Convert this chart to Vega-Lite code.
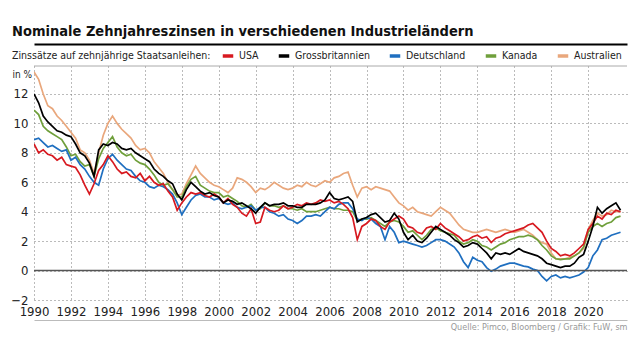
{
  "$schema": "https://vega.github.io/schema/vega-lite/v6.json",
  "width": 593,
  "height": 234,
  "autosize": {"type": "none"},
  "padding": {"left": 34, "top": 66, "right": 13, "bottom": 52},
  "background": "white",
  "config": {
    "font": "DejaVu Sans Condensed, Liberation Sans Narrow, Roboto, sans-serif",
    "view": {"stroke": null},
    "axisY": {
      "labelOverlap": false,
      "labelFlush": false,
      "labelBound": false
    }
  },
  "title": {
    "text": "Nominale Zehnjahreszinsen in verschiedenen Industrieländern",
    "anchor": "start",
    "frame": "group",
    "dx": -22,
    "dy": 14,
    "offset": 8,
    "baseline": "alphabetic",
    "fontSize": 14.5,
    "fontWeight": "bold",
    "color": "#111"
  },
  "data": {
    "values": [
      {"t":1990.00,"USA":8.6,"Grossbritannien":12.0,"Deutschland":8.9,"Kanada":10.9,"Australien":13.5},
      {"t":1990.25,"USA":8.0,"Grossbritannien":11.4,"Deutschland":9.0,"Kanada":10.6,"Australien":13.0},
      {"t":1990.50,"USA":8.2,"Grossbritannien":10.5,"Deutschland":8.7,"Kanada":9.8,"Australien":12.0},
      {"t":1990.75,"USA":7.9,"Grossbritannien":10.1,"Deutschland":8.4,"Kanada":9.5,"Australien":11.2},
      {"t":1991.00,"USA":7.8,"Grossbritannien":9.8,"Deutschland":8.5,"Kanada":9.3,"Australien":11.0},
      {"t":1991.25,"USA":7.5,"Grossbritannien":9.5,"Deutschland":8.3,"Kanada":9.1,"Australien":10.5},
      {"t":1991.50,"USA":7.7,"Grossbritannien":9.4,"Deutschland":8.1,"Kanada":8.9,"Australien":10.2},
      {"t":1991.75,"USA":7.2,"Grossbritannien":9.2,"Deutschland":8.2,"Kanada":8.4,"Australien":9.8},
      {"t":1992.00,"USA":7.1,"Grossbritannien":9.1,"Deutschland":7.5,"Kanada":7.8,"Australien":9.4},
      {"t":1992.25,"USA":7.0,"Grossbritannien":8.6,"Deutschland":7.7,"Kanada":7.9,"Australien":9.0},
      {"t":1992.50,"USA":6.5,"Grossbritannien":8.0,"Deutschland":7.2,"Kanada":7.4,"Australien":8.2},
      {"t":1992.75,"USA":5.8,"Grossbritannien":7.8,"Deutschland":6.9,"Kanada":7.1,"Australien":8.0},
      {"t":1993.00,"USA":5.2,"Grossbritannien":7.3,"Deutschland":6.4,"Kanada":7.2,"Australien":7.5},
      {"t":1993.25,"USA":5.9,"Grossbritannien":6.4,"Deutschland":6.0,"Kanada":6.4,"Australien":6.6},
      {"t":1993.50,"USA":6.8,"Grossbritannien":8.2,"Deutschland":5.8,"Kanada":7.6,"Australien":8.0},
      {"t":1993.75,"USA":7.2,"Grossbritannien":8.6,"Deutschland":6.9,"Kanada":8.3,"Australien":9.2},
      {"t":1994.00,"USA":7.8,"Grossbritannien":8.5,"Deutschland":7.6,"Kanada":8.7,"Australien":10.0},
      {"t":1994.25,"USA":7.4,"Grossbritannien":8.7,"Deutschland":7.9,"Kanada":9.1,"Australien":10.5},
      {"t":1994.50,"USA":6.9,"Grossbritannien":8.6,"Deutschland":7.5,"Kanada":8.4,"Australien":10.0},
      {"t":1994.75,"USA":6.6,"Grossbritannien":8.3,"Deutschland":7.2,"Kanada":8.0,"Australien":9.6},
      {"t":1995.00,"USA":6.7,"Grossbritannien":8.2,"Deutschland":6.9,"Kanada":7.8,"Australien":9.3},
      {"t":1995.25,"USA":6.4,"Grossbritannien":8.3,"Deutschland":6.8,"Kanada":7.9,"Australien":9.0},
      {"t":1995.50,"USA":6.3,"Grossbritannien":8.0,"Deutschland":6.4,"Kanada":7.5,"Australien":8.5},
      {"t":1995.75,"USA":6.6,"Grossbritannien":7.8,"Deutschland":6.1,"Kanada":7.3,"Australien":8.2},
      {"t":1996.00,"USA":6.1,"Grossbritannien":7.6,"Deutschland":6.0,"Kanada":7.2,"Australien":8.3},
      {"t":1996.25,"USA":6.4,"Grossbritannien":7.4,"Deutschland":5.7,"Kanada":6.9,"Australien":8.0},
      {"t":1996.50,"USA":6.0,"Grossbritannien":6.9,"Deutschland":5.6,"Kanada":6.5,"Australien":7.4},
      {"t":1996.75,"USA":5.8,"Grossbritannien":6.6,"Deutschland":5.8,"Kanada":6.0,"Australien":7.0},
      {"t":1997.00,"USA":5.9,"Grossbritannien":6.4,"Deutschland":5.7,"Kanada":5.8,"Australien":6.6},
      {"t":1997.25,"USA":5.4,"Grossbritannien":6.1,"Deutschland":5.5,"Kanada":5.9,"Australien":6.0},
      {"t":1997.50,"USA":5.0,"Grossbritannien":5.9,"Deutschland":5.2,"Kanada":5.5,"Australien":5.5},
      {"t":1997.75,"USA":4.1,"Grossbritannien":5.2,"Deutschland":4.6,"Kanada":5.0,"Australien":5.1},
      {"t":1998.00,"USA":4.6,"Grossbritannien":4.8,"Deutschland":3.8,"Kanada":5.0,"Australien":5.2},
      {"t":1998.25,"USA":5.0,"Grossbritannien":5.5,"Deutschland":4.3,"Kanada":5.7,"Australien":5.9},
      {"t":1998.50,"USA":5.3,"Grossbritannien":6.0,"Deutschland":4.8,"Kanada":6.2,"Australien":6.5},
      {"t":1998.75,"USA":5.2,"Grossbritannien":5.7,"Deutschland":5.1,"Kanada":6.4,"Australien":7.1},
      {"t":1999.00,"USA":5.3,"Grossbritannien":5.4,"Deutschland":5.2,"Kanada":5.8,"Australien":6.6},
      {"t":1999.25,"USA":5.1,"Grossbritannien":5.2,"Deutschland":5.0,"Kanada":5.6,"Australien":6.3},
      {"t":1999.50,"USA":5.0,"Grossbritannien":5.3,"Deutschland":5.0,"Kanada":5.4,"Australien":6.0},
      {"t":1999.75,"USA":5.2,"Grossbritannien":5.1,"Deutschland":4.8,"Kanada":5.3,"Australien":5.8},
      {"t":2000.00,"USA":5.0,"Grossbritannien":5.0,"Deutschland":4.9,"Kanada":5.3,"Australien":5.7},
      {"t":2000.25,"USA":4.6,"Grossbritannien":4.6,"Deutschland":4.6,"Kanada":5.0,"Australien":5.5},
      {"t":2000.50,"USA":4.9,"Grossbritannien":4.8,"Deutschland":4.5,"Kanada":5.1,"Australien":5.3},
      {"t":2000.75,"USA":4.5,"Grossbritannien":4.7,"Deutschland":4.6,"Kanada":4.9,"Australien":5.6},
      {"t":2001.00,"USA":4.3,"Grossbritannien":4.5,"Deutschland":4.3,"Kanada":4.7,"Australien":6.3},
      {"t":2001.25,"USA":3.9,"Grossbritannien":4.6,"Deutschland":4.2,"Kanada":4.4,"Australien":6.2},
      {"t":2001.50,"USA":3.7,"Grossbritannien":4.4,"Deutschland":4.3,"Kanada":4.3,"Australien":6.0},
      {"t":2001.75,"USA":4.2,"Grossbritannien":4.2,"Deutschland":4.4,"Kanada":4.5,"Australien":5.7},
      {"t":2002.00,"USA":3.2,"Grossbritannien":3.9,"Deutschland":4.1,"Kanada":4.1,"Australien":5.3},
      {"t":2002.25,"USA":3.3,"Grossbritannien":4.3,"Deutschland":4.3,"Kanada":4.2,"Australien":5.6},
      {"t":2002.50,"USA":4.3,"Grossbritannien":4.6,"Deutschland":4.3,"Kanada":4.6,"Australien":5.5},
      {"t":2002.75,"USA":4.1,"Grossbritannien":4.4,"Deutschland":4.0,"Kanada":4.4,"Australien":5.7},
      {"t":2003.00,"USA":4.0,"Grossbritannien":4.5,"Deutschland":3.9,"Kanada":4.4,"Australien":6.0},
      {"t":2003.25,"USA":4.1,"Grossbritannien":4.5,"Deutschland":3.7,"Kanada":4.3,"Australien":5.8},
      {"t":2003.50,"USA":4.4,"Grossbritannien":4.6,"Deutschland":3.8,"Kanada":4.4,"Australien":5.6},
      {"t":2003.75,"USA":4.2,"Grossbritannien":4.4,"Deutschland":3.5,"Kanada":4.2,"Australien":5.5},
      {"t":2004.00,"USA":4.3,"Grossbritannien":4.4,"Deutschland":3.4,"Kanada":4.2,"Australien":5.6},
      {"t":2004.25,"USA":4.5,"Grossbritannien":4.3,"Deutschland":3.2,"Kanada":4.1,"Australien":5.8},
      {"t":2004.50,"USA":4.4,"Grossbritannien":4.3,"Deutschland":3.4,"Kanada":4.2,"Australien":5.7},
      {"t":2004.75,"USA":4.6,"Grossbritannien":4.5,"Deutschland":3.7,"Kanada":4.0,"Australien":6.0},
      {"t":2005.00,"USA":4.5,"Grossbritannien":4.5,"Deutschland":3.7,"Kanada":4.0,"Australien":5.8},
      {"t":2005.25,"USA":4.6,"Grossbritannien":4.5,"Deutschland":3.8,"Kanada":4.0,"Australien":5.7},
      {"t":2005.50,"USA":4.8,"Grossbritannien":4.6,"Deutschland":3.7,"Kanada":4.1,"Australien":5.9},
      {"t":2005.75,"USA":4.7,"Grossbritannien":4.8,"Deutschland":4.0,"Kanada":4.2,"Australien":6.1},
      {"t":2006.00,"USA":4.8,"Grossbritannien":5.3,"Deutschland":4.3,"Kanada":4.3,"Australien":6.0},
      {"t":2006.25,"USA":4.6,"Grossbritannien":4.9,"Deutschland":4.2,"Kanada":4.2,"Australien":6.3},
      {"t":2006.50,"USA":4.7,"Grossbritannien":4.8,"Deutschland":4.5,"Kanada":4.2,"Australien":6.4},
      {"t":2006.75,"USA":4.5,"Grossbritannien":4.9,"Deutschland":4.6,"Kanada":4.1,"Australien":6.6},
      {"t":2007.00,"USA":4.2,"Grossbritannien":5.0,"Deutschland":4.6,"Kanada":4.1,"Australien":6.7},
      {"t":2007.25,"USA":3.6,"Grossbritannien":4.7,"Deutschland":4.2,"Kanada":4.0,"Australien":5.8},
      {"t":2007.50,"USA":2.1,"Grossbritannien":3.3,"Deutschland":3.5,"Kanada":3.4,"Australien":5.0},
      {"t":2007.75,"USA":3.0,"Grossbritannien":3.5,"Deutschland":3.4,"Kanada":3.5,"Australien":5.6},
      {"t":2008.00,"USA":3.2,"Grossbritannien":3.6,"Deutschland":3.6,"Kanada":3.5,"Australien":5.7},
      {"t":2008.25,"USA":3.5,"Grossbritannien":3.8,"Deutschland":3.5,"Kanada":3.6,"Australien":5.5},
      {"t":2008.50,"USA":3.4,"Grossbritannien":3.9,"Deutschland":3.2,"Kanada":3.4,"Australien":5.7},
      {"t":2008.75,"USA":3.0,"Grossbritannien":3.6,"Deutschland":3.0,"Kanada":3.2,"Australien":5.6},
      {"t":2009.00,"USA":2.8,"Grossbritannien":3.3,"Deutschland":2.1,"Kanada":3.0,"Australien":5.5},
      {"t":2009.25,"USA":3.3,"Grossbritannien":3.4,"Deutschland":3.0,"Kanada":3.3,"Australien":5.4},
      {"t":2009.50,"USA":3.5,"Grossbritannien":3.9,"Deutschland":2.6,"Kanada":3.4,"Australien":5.0},
      {"t":2009.75,"USA":3.7,"Grossbritannien":3.5,"Deutschland":1.9,"Kanada":3.3,"Australien":4.6},
      {"t":2010.00,"USA":3.5,"Grossbritannien":2.6,"Deutschland":2.0,"Kanada":3.0,"Australien":4.4},
      {"t":2010.25,"USA":3.0,"Grossbritannien":2.1,"Deutschland":1.9,"Kanada":2.6,"Australien":4.1},
      {"t":2010.50,"USA":2.9,"Grossbritannien":2.4,"Deutschland":1.8,"Kanada":2.7,"Australien":4.3},
      {"t":2010.75,"USA":2.6,"Grossbritannien":2.0,"Deutschland":1.7,"Kanada":2.4,"Australien":4.0},
      {"t":2011.00,"USA":2.5,"Grossbritannien":1.9,"Deutschland":1.6,"Kanada":2.1,"Australien":3.9},
      {"t":2011.25,"USA":2.9,"Grossbritannien":2.2,"Deutschland":1.7,"Kanada":2.4,"Australien":3.8},
      {"t":2011.50,"USA":3.0,"Grossbritannien":2.6,"Deutschland":1.9,"Kanada":2.8,"Australien":3.7},
      {"t":2011.75,"USA":2.8,"Grossbritannien":3.0,"Deutschland":2.1,"Kanada":2.9,"Australien":4.0},
      {"t":2012.00,"USA":3.2,"Grossbritannien":2.8,"Deutschland":2.1,"Kanada":2.7,"Australien":4.3},
      {"t":2012.25,"USA":2.9,"Grossbritannien":2.6,"Deutschland":2.0,"Kanada":2.6,"Australien":4.1},
      {"t":2012.50,"USA":2.7,"Grossbritannien":2.4,"Deutschland":1.8,"Kanada":2.5,"Australien":3.9},
      {"t":2012.75,"USA":2.5,"Grossbritannien":2.1,"Deutschland":1.6,"Kanada":2.4,"Australien":3.5},
      {"t":2013.00,"USA":2.3,"Grossbritannien":1.9,"Deutschland":1.2,"Kanada":2.0,"Australien":3.1},
      {"t":2013.25,"USA":2.0,"Grossbritannien":1.6,"Deutschland":0.6,"Kanada":1.8,"Australien":2.8},
      {"t":2013.50,"USA":2.1,"Grossbritannien":1.7,"Deutschland":0.2,"Kanada":1.9,"Australien":2.7},
      {"t":2013.75,"USA":2.3,"Grossbritannien":1.9,"Deutschland":0.9,"Kanada":2.1,"Australien":2.6},
      {"t":2014.00,"USA":2.4,"Grossbritannien":1.8,"Deutschland":0.7,"Kanada":2.0,"Australien":2.6},
      {"t":2014.25,"USA":2.2,"Grossbritannien":1.5,"Deutschland":0.6,"Kanada":1.7,"Australien":2.7},
      {"t":2014.50,"USA":2.3,"Grossbritannien":1.2,"Deutschland":0.2,"Kanada":1.6,"Australien":2.8},
      {"t":2014.75,"USA":1.9,"Grossbritannien":0.8,"Deutschland":-0.05,"Kanada":1.4,"Australien":2.7},
      {"t":2015.00,"USA":2.2,"Grossbritannien":1.2,"Deutschland":0.1,"Kanada":1.6,"Australien":2.6},
      {"t":2015.25,"USA":2.3,"Grossbritannien":1.1,"Deutschland":0.3,"Kanada":1.8,"Australien":2.7},
      {"t":2015.50,"USA":2.5,"Grossbritannien":1.2,"Deutschland":0.4,"Kanada":1.9,"Australien":2.8},
      {"t":2015.75,"USA":2.6,"Grossbritannien":1.1,"Deutschland":0.5,"Kanada":2.1,"Australien":2.7},
      {"t":2016.00,"USA":2.7,"Grossbritannien":1.3,"Deutschland":0.5,"Kanada":2.2,"Australien":2.6},
      {"t":2016.25,"USA":2.8,"Grossbritannien":1.5,"Deutschland":0.4,"Kanada":2.3,"Australien":2.7},
      {"t":2016.50,"USA":2.9,"Grossbritannien":1.3,"Deutschland":0.3,"Kanada":2.3,"Australien":2.8},
      {"t":2016.75,"USA":3.1,"Grossbritannien":1.2,"Deutschland":0.25,"Kanada":2.4,"Australien":2.6},
      {"t":2017.00,"USA":3.2,"Grossbritannien":1.1,"Deutschland":0.1,"Kanada":2.3,"Australien":2.4},
      {"t":2017.25,"USA":2.9,"Grossbritannien":1.0,"Deutschland":0.0,"Kanada":2.1,"Australien":2.1},
      {"t":2017.50,"USA":2.6,"Grossbritannien":0.8,"Deutschland":-0.4,"Kanada":1.7,"Australien":1.9},
      {"t":2017.75,"USA":2.0,"Grossbritannien":0.5,"Deutschland":-0.7,"Kanada":1.4,"Australien":1.8},
      {"t":2018.00,"USA":1.5,"Grossbritannien":0.4,"Deutschland":-0.4,"Kanada":1.0,"Australien":1.2},
      {"t":2018.25,"USA":1.3,"Grossbritannien":0.3,"Deutschland":-0.3,"Kanada":0.8,"Australien":0.8},
      {"t":2018.50,"USA":1.0,"Grossbritannien":0.2,"Deutschland":-0.5,"Kanada":0.75,"Australien":0.8},
      {"t":2018.75,"USA":1.1,"Grossbritannien":0.3,"Deutschland":-0.4,"Kanada":0.8,"Australien":0.8},
      {"t":2019.00,"USA":1.0,"Grossbritannien":0.3,"Deutschland":-0.5,"Kanada":0.8,"Australien":0.9},
      {"t":2019.25,"USA":1.2,"Grossbritannien":0.5,"Deutschland":-0.4,"Kanada":1.0,"Australien":1.0},
      {"t":2019.50,"USA":1.5,"Grossbritannien":0.9,"Deutschland":-0.3,"Kanada":1.2,"Australien":1.2},
      {"t":2019.75,"USA":1.8,"Grossbritannien":1.1,"Deutschland":-0.1,"Kanada":1.6,"Australien":1.5},
      {"t":2020.00,"USA":2.8,"Grossbritannien":2.0,"Deutschland":0.2,"Kanada":2.6,"Australien":2.8},
      {"t":2020.25,"USA":3.2,"Grossbritannien":3.0,"Deutschland":1.0,"Kanada":3.0,"Australien":3.4},
      {"t":2020.50,"USA":3.7,"Grossbritannien":4.3,"Deutschland":1.4,"Kanada":3.2,"Australien":3.9},
      {"t":2020.75,"USA":3.5,"Grossbritannien":3.9,"Deutschland":2.1,"Kanada":3.0,"Australien":3.7},
      {"t":2021.00,"USA":3.9,"Grossbritannien":4.2,"Deutschland":2.2,"Kanada":3.2,"Australien":3.8},
      {"t":2021.25,"USA":3.8,"Grossbritannien":4.4,"Deutschland":2.4,"Kanada":3.3,"Australien":4.1},
      {"t":2021.50,"USA":4.1,"Grossbritannien":4.6,"Deutschland":2.5,"Kanada":3.6,"Australien":4.0},
      {"t":2021.75,"USA":4.0,"Grossbritannien":4.1,"Deutschland":2.6,"Kanada":3.7,"Australien":4.0}
    ]
  },
  "resolve": {"axis": {"x": "independent"}},
  "layer": [
    {
      "transform": [{"fold": ["Australien", "Kanada", "Deutschland", "USA", "Grossbritannien"], "as": ["land", "wert"]}],
      "mark": {"type": "line", "strokeWidth": 1.7, "clip": true},
      "encoding": {
        "x": {
          "field": "t", "type": "quantitative",
          "scale": {"domain": [1990, 2022.1], "nice": false, "zero": false},
          "axis": {
            "orient": "bottom",
            "values": [1990,1992,1994,1996,1998,2000,2002,2004,2006,2008,2010,2012,2014,2016,2018,2020],
            "format": "d",
            "offset": 20,
            "ticks": false,
            "tickSize": 0,
            "labelPadding": -15,
            "labelFontSize": 13,
            "labelColor": "#222",
            "labelFlush": false,
            "labelOverlap": false,
            "domainColor": "#bbbbbb",
            "domainWidth": 1,
            "grid": true,
            "gridColor": "#777777",
            "gridDash": [1, 3],
            "title": "Quelle: Pimco, Bloomberg / Grafik: FuW, sm",
            "titleAnchor": "end",
            "titleFontSize": 9,
            "titleColor": "#999999",
            "titleFontWeight": "normal",
            "titlePadding": 2
          }
        },
        "y": {
          "field": "wert", "type": "quantitative",
          "scale": {"domain": [-2, 13.9], "nice": false, "zero": false},
          "axis": {
            "values": [-2, 0, 2, 4, 6, 8, 10, 12],
            "domain": false,
            "ticks": false,
            "labelPadding": 6,
            "labelFontSize": 13,
            "labelColor": "#222",
            "labelOverlap": false,
            "grid": true,
            "gridColor": "#777777",
            "gridDash": [1, 3],
            "title": "in %",
            "titleAngle": 0,
            "titleX": -22,
            "titleY": 8,
            "titleAlign": "left",
            "titleBaseline": "middle",
            "titleFontSize": 10,
            "titleFontWeight": "normal",
            "titleColor": "#222"
          }
        },
        "color": {
          "field": "land", "type": "nominal",
          "scale": {
            "domain": ["USA", "Grossbritannien", "Deutschland", "Kanada", "Australien"],
            "range": ["#d71920", "#000000", "#1f6fc0", "#6f9f3b", "#e9a77c"]
          },
          "legend": {
            "orient": "none",
            "legendX": -22,
            "legendY": -17,
            "direction": "horizontal",
            "title": "Zinssätze auf zehnjährige Staatsanleihen:",
            "titleOrient": "left",
            "titleLimit": 0,
            "titleFontSize": 10.5,
            "titleFontWeight": "normal",
            "titleColor": "#222",
            "titlePadding": 10,
            "labelFontSize": 10.5,
            "labelColor": "#222",
            "labelOffset": 4,
            "labelLimit": 0,
            "symbolType": "stroke",
            "symbolStrokeWidth": 3.5,
            "symbolSize": 110,
            "columnPadding": 12,
            "padding": 0
          }
        }
      }
    },
    {
      "data": {"values": [{"von": 1990, "bis": 2022.1, "null": 0}]},
      "mark": {"type": "rule", "color": "#555555", "strokeWidth": 1.5},
      "encoding": {
        "y": {"field": "null", "type": "quantitative", "axis": {"values": [-2, 0, 2, 4, 6, 8, 10, 12], "labelOverlap": false}},
        "x": {
          "field": "von", "type": "quantitative",
          "axis": {"orient": "top", "offset": 22, "labels": false, "ticks": false, "grid": false, "domain": true, "domainColor": "#000000", "domainWidth": 2, "title": null}
        },
        "x2": {"field": "bis"}
      }
    },
    {
      "data": {"values": [{"oben": 13.9}]},
      "mark": {"type": "rule", "color": "#aaaaaa", "strokeWidth": 1},
      "encoding": {
        "y": {"field": "oben", "type": "quantitative", "axis": {"values": [-2, 0, 2, 4, 6, 8, 10, 12], "labelOverlap": false}}
      }
    }
  ]
}
